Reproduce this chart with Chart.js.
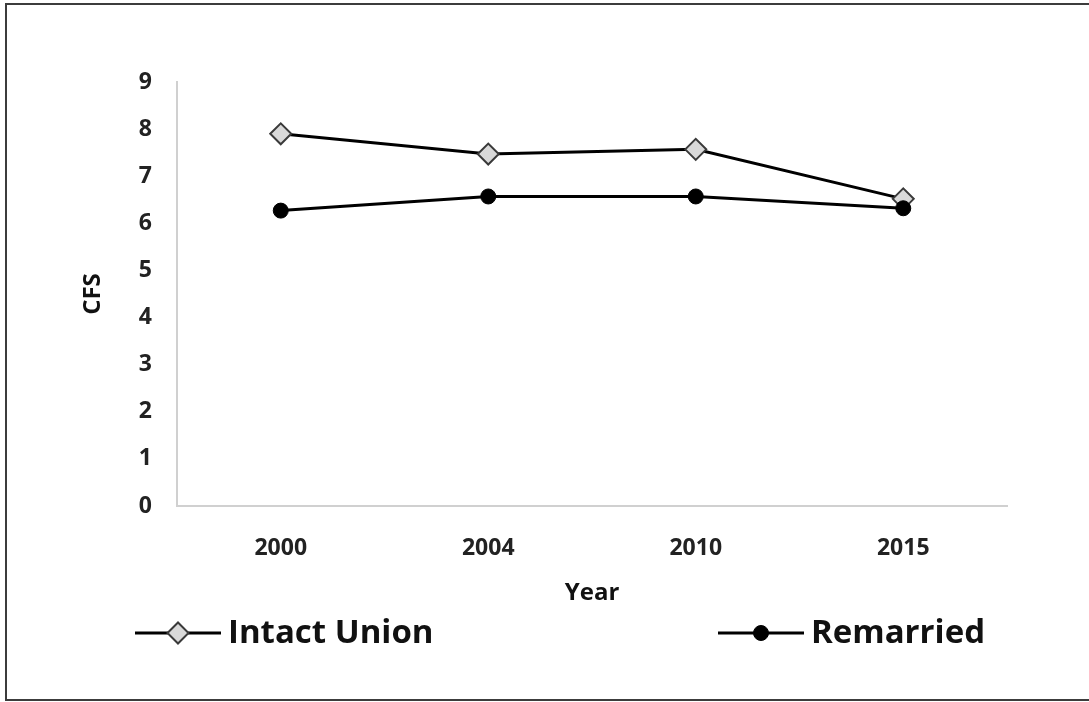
<!DOCTYPE html>
<html>
<head>
<meta charset="utf-8">
<script src="https://cdn.jsdelivr.net/npm/chart.js@4/dist/chart.umd.min.js"></script>
<style>
  html, body { margin: 0; padding: 0; background: #fff; }
  #wrap { position: relative; width: 1089px; height: 702px; overflow: hidden; }
  #frame { position: absolute; left: 5px; top: 3px; width: 1100px; height: 698px;
           border: 2px solid #3c3c3c; box-sizing: border-box; pointer-events: none; }
  canvas { position: absolute; left: 0; top: 0; }
</style>
</head>
<body>
<div id="wrap">
  <canvas id="chart" width="1089" height="702"></canvas>
  <div id="frame"></div>
</div>
<script>
// Survey years on the horizontal axis
const years = ['2000', '2004', '2010', '2015'];

// CFS by family type
const intactUnion = [7.9, 7.47, 7.57, 6.52];
const remarried = [6.27, 6.57, 6.57, 6.32];

// Vertical axis range and step
const yMin = 0;
const yMax = 9;
const yStep = 1;

const FONT = '"Open Sans", "DejaVu Sans", sans-serif';

// Legend drawn below the axis: line segment with the series marker, then its name
const wideLegend = {
  id: 'wideLegend',
  afterDraw(chart) {
    const ctx = chart.ctx;
    const items = [
      { ds: chart.data.datasets[0], x: 135 },
      { ds: chart.data.datasets[1], x: 718 }
    ];
    const y = 633;
    ctx.save();
    items.forEach(({ ds, x }) => {
      ctx.strokeStyle = '#000';
      ctx.lineWidth = 3;
      ctx.beginPath();
      ctx.moveTo(x, y);
      ctx.lineTo(x + 86, y);
      ctx.stroke();
      ctx.fillStyle = ds.pointBackgroundColor;
      ctx.strokeStyle = ds.pointBorderColor;
      ctx.lineWidth = ds.pointBorderWidth;
      Chart.helpers.drawPoint(ctx, {
        pointStyle: ds.pointStyle,
        radius: ds.pointRadius,
        rotation: 0,
        borderWidth: ds.pointBorderWidth
      }, x + 43, y);
      ctx.fillStyle = '#111';
      ctx.font = 'bold 33px ' + FONT;
      ctx.textBaseline = 'middle';
      ctx.textAlign = 'left';
      ctx.fillText(ds.label, x + 93, y + 1);
    });
    ctx.restore();
  }
};

new Chart(document.getElementById('chart'), {
  type: 'line',
  data: {
    labels: years,
    datasets: [
      {
        label: 'Intact Union',
        data: intactUnion,
        order: 1,
        borderColor: '#000',
        borderWidth: 3,
        pointStyle: 'rectRot',
        pointRadius: 10.5,
        pointBackgroundColor: '#d9d9d9',
        pointBorderColor: '#3a3a3a',
        pointBorderWidth: 2,
        tension: 0
      },
      {
        label: 'Remarried',
        data: remarried,
        order: 0,
        borderColor: '#000',
        borderWidth: 3,
        pointStyle: 'circle',
        pointRadius: 7.5,
        pointBackgroundColor: '#000',
        pointBorderColor: '#000',
        pointBorderWidth: 1,
        tension: 0
      }
    ]
  },
  options: {
    responsive: false,
    animation: false,
    layout: { padding: { top: 82, right: 82, bottom: 94, left: 0 } },
    plugins: {
      legend: { display: false },
      tooltip: { enabled: false }
    },
    scales: {
      x: {
        offset: true,
        grid: { display: false, drawTicks: false },
        border: { display: true, color: '#d0d0d0', width: 2 },
        ticks: {
          color: '#222',
          padding: 29,
          font: { family: FONT, size: 23, weight: 'bold' }
        },
        title: {
          display: true,
          text: 'Year',
          color: '#111',
          padding: { top: 21, bottom: 0 },
          font: { family: FONT, size: 24, weight: 'bold' }
        },
        afterFit(scale) { scale.height = 102; }
      },
      y: {
        min: yMin,
        max: yMax,
        grid: { display: false, drawTicks: false },
        border: { display: true, color: '#d0d0d0', width: 2 },
        ticks: {
          stepSize: yStep,
          color: '#222',
          padding: 25,
          font: { family: FONT, size: 23, weight: 'bold' }
        },
        title: {
          display: true,
          text: 'CFS',
          color: '#111',
          padding: { top: 79, bottom: 0 },
          font: { family: FONT, size: 24, weight: 'bold' }
        },
        afterFit(scale) { scale.width = 177; }
      }
    }
  },
  plugins: [wideLegend]
});
</script>
</body>
</html>
